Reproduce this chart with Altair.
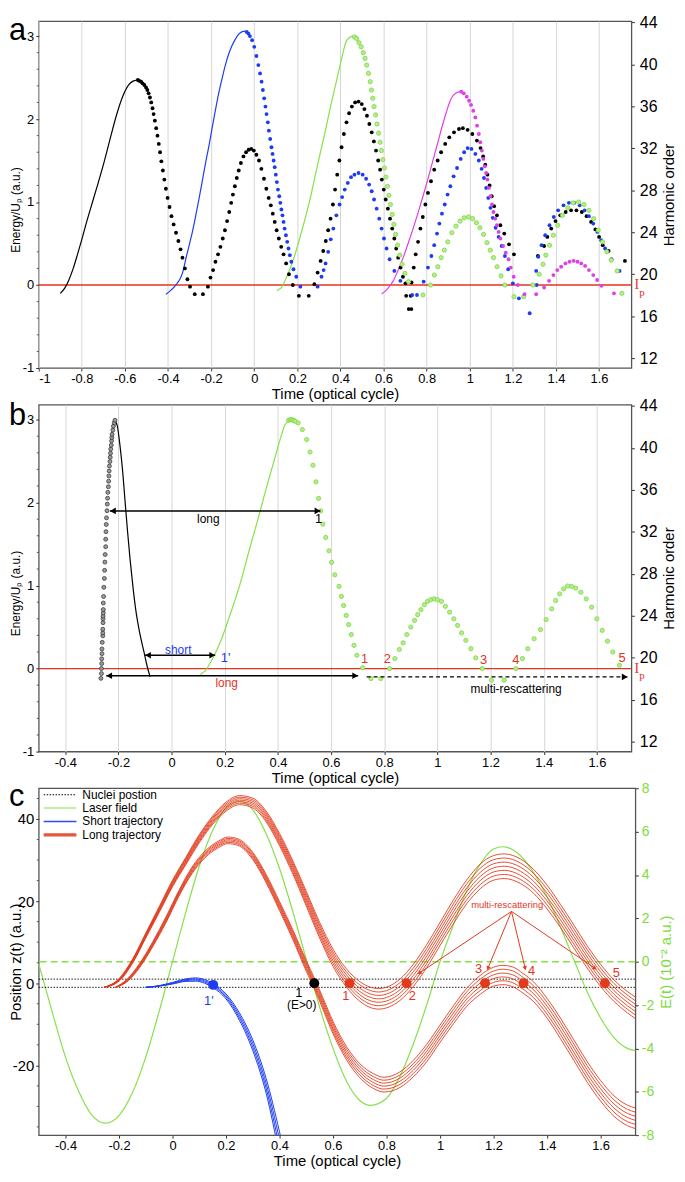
import math
import altair as alt
import pandas as pd

FONT = "Liberation Sans"
SERIF = "Liberation Serif"
RED_IP = "#e5331f"
BLUE = "#1d3cf2"
MAGENTA = "#df3fe6"
GREEN_LINE = "#86e04a"
GREEN_FILL = "#b4ef88"
GREEN_EDGE = "#86d84f"
GREEN_AX = "#7cdc3a"
RED_TRAJ = "#e23a1c"
GRID = "#d6d6d6"
FRAME = "#555555"

# ---------------- panel a : return energies (time, Energy/Up) ----------------
a_x_ticks = [-1, -0.8, -0.6, -0.4, -0.2, 0, 0.2, 0.4, 0.6, 0.8, 1, 1.2, 1.4, 1.6]
e_y_ticks = [-1, 0, 1, 2, 3]
e_y_minor = [-0.8, -0.6, -0.4, -0.2, 0.2, 0.4, 0.6, 0.8, 1.2, 1.4, 1.6, 1.8, 2.2, 2.4, 2.6, 2.8]
harmonic_ticks = [12, 16, 20, 24, 28, 32, 36, 40, 44]

a_black_line = [(-0.9, -0.1), (-0.88, -0.04), (-0.86, 0.06), (-0.84, 0.2), (-0.82, 0.37), (-0.8, 0.55),
                (-0.78, 0.74), (-0.762, 0.9), (-0.731, 1.17), (-0.7, 1.45), (-0.67, 1.75), (-0.64, 2.04),
                (-0.609, 2.28), (-0.58, 2.42), (-0.56, 2.46), (-0.545, 2.47)]
a_blue_line = [(-0.41, -0.11), (-0.39, -0.07), (-0.37, -0.02), (-0.355, 0.03), (-0.341, 0.09), (-0.33, 0.17),
               (-0.318, 0.31), (-0.3, 0.5), (-0.287, 0.64), (-0.272, 0.83), (-0.257, 1.03), (-0.242, 1.24),
               (-0.226, 1.47), (-0.21, 1.68), (-0.195, 1.9), (-0.18, 2.11), (-0.165, 2.31), (-0.15, 2.48),
               (-0.134, 2.65), (-0.119, 2.78), (-0.104, 2.88), (-0.088, 2.96), (-0.073, 3.02), (-0.058, 3.05),
               (-0.042, 3.06)]
a_green_line = [(0.106, -0.07), (0.116, -0.05), (0.126, -0.03), (0.14, 0.04), (0.156, 0.13), (0.171, 0.23),
                (0.187, 0.35), (0.202, 0.48), (0.217, 0.62), (0.233, 0.77), (0.248, 0.92), (0.264, 1.09),
                (0.279, 1.27), (0.294, 1.45), (0.309, 1.62), (0.325, 1.8), (0.34, 1.98), (0.355, 2.16),
                (0.37, 2.33), (0.386, 2.51), (0.401, 2.68), (0.413, 2.81), (0.424, 2.92), (0.44, 2.98),
                (0.456, 3.0)]
a_magenta_line = [(0.591, -0.11), (0.605, -0.08), (0.62, -0.04), (0.645, 0.05), (0.668, 0.18), (0.691, 0.33),
                  (0.714, 0.5), (0.737, 0.68), (0.76, 0.87), (0.783, 1.07), (0.806, 1.28), (0.829, 1.5),
                  (0.852, 1.72), (0.875, 1.94), (0.89, 2.07), (0.902, 2.17), (0.925, 2.29), (0.952, 2.33)]

a_black_dots = [
    (-0.54, 2.47), (-0.533, 2.46), (-0.525, 2.45), (-0.518, 2.43), (-0.51, 2.41), (-0.502, 2.38), (-0.496, 2.35),
    (-0.49, 2.31), (-0.484, 2.26), (-0.478, 2.2), (-0.472, 2.13), (-0.467, 2.06), (-0.461, 1.98), (-0.455, 1.89),
    (-0.449, 1.8), (-0.443, 1.7), (-0.437, 1.6), (-0.431, 1.49), (-0.424, 1.38), (-0.417, 1.27), (-0.41, 1.16),
    (-0.402, 1.05), (-0.393, 0.94), (-0.384, 0.83), (-0.374, 0.73), (-0.363, 0.63), (-0.352, 0.53), (-0.342, 0.43),
    (-0.333, 0.33), (-0.322, 0.2), (-0.31, 0.07), (-0.298, -0.02), (-0.276, -0.11), (-0.238, -0.11),
    (-0.215, -0.02), (-0.203, 0.09), (-0.191, 0.18), (-0.18, 0.28), (-0.168, 0.37), (-0.157, 0.46), (-0.146, 0.56),
    (-0.136, 0.66), (-0.126, 0.77), (-0.116, 0.88), (-0.107, 0.99), (-0.099, 1.09), (-0.09, 1.19), (-0.081, 1.29),
    (-0.072, 1.38), (-0.062, 1.47), (-0.05, 1.55), (-0.038, 1.6), (-0.026, 1.63), (-0.014, 1.64), (-0.002, 1.62),
    (0.01, 1.57), (0.022, 1.5), (0.033, 1.4), (0.045, 1.28), (0.056, 1.16), (0.067, 1.05), (0.077, 0.96),
    (0.086, 0.86), (0.095, 0.76), (0.104, 0.66), (0.114, 0.56), (0.125, 0.46), (0.136, 0.37), (0.148, 0.26),
    (0.161, 0.13), (0.179, 0.0), (0.207, -0.13), (0.253, -0.13),
    (0.279, 0.01), (0.294, 0.15), (0.308, 0.29), (0.32, 0.41), (0.332, 0.53), (0.343, 0.66), (0.354, 0.8),
    (0.365, 0.97), (0.375, 1.15), (0.385, 1.33), (0.395, 1.5), (0.405, 1.66), (0.416, 1.82), (0.428, 1.96),
    (0.44, 2.07), (0.453, 2.15), (0.468, 2.2), (0.484, 2.21), (0.499, 2.18), (0.511, 2.12), (0.523, 2.04),
    (0.534, 1.94), (0.545, 1.84), (0.555, 1.73), (0.565, 1.62), (0.575, 1.5), (0.584, 1.39), (0.592, 1.27),
    (0.601, 1.15), (0.61, 1.03), (0.62, 0.92), (0.63, 0.8), (0.64, 0.68), (0.65, 0.56), (0.659, 0.44),
    (0.668, 0.33), (0.679, 0.21), (0.69, 0.1), (0.702, 0.02), (0.705, -0.13), (0.726, -0.13), (0.717, -0.29),
    (0.729, -0.29),
    (0.73, 0.03), (0.74, 0.21), (0.749, 0.37), (0.76, 0.52), (0.771, 0.68), (0.782, 0.82), (0.794, 0.97),
    (0.806, 1.11), (0.82, 1.25), (0.835, 1.39), (0.851, 1.5), (0.867, 1.6), (0.886, 1.7), (0.905, 1.78),
    (0.927, 1.84), (0.95, 1.88), (0.968, 1.89), (0.99, 1.87), (1.012, 1.82), (1.033, 1.74), (1.05, 1.65),
    (1.062, 1.55), (1.072, 1.45), (1.082, 1.33), (1.092, 1.2), (1.102, 1.07), (1.113, 0.95), (1.126, 0.84),
    (1.142, 0.72), (1.16, 0.62), (1.182, 0.49), (1.205, 0.37),
    (1.316, 0.35), (1.345, 0.47), (1.36, 0.58), (1.378, 0.68), (1.398, 0.77), (1.42, 0.84), (1.445, 0.88),
    (1.47, 0.9), (1.495, 0.9), (1.52, 0.88), (1.542, 0.83), (1.563, 0.76), (1.583, 0.67), (1.6, 0.58),
    (1.617, 0.48), (1.644, 0.41), (1.72, 0.29)]

a_blue_dots = [
    (-0.035, 3.05), (-0.027, 3.03), (-0.02, 3.0), (-0.01, 2.95), (0.0, 2.87), (0.01, 2.76), (0.019, 2.65),
    (0.027, 2.55), (0.034, 2.45), (0.04, 2.35), (0.046, 2.25), (0.052, 2.15), (0.057, 2.06), (0.063, 1.96),
    (0.068, 1.86), (0.074, 1.76), (0.08, 1.66), (0.085, 1.58), (0.09, 1.5), (0.095, 1.42), (0.1, 1.33),
    (0.105, 1.24), (0.11, 1.15), (0.116, 1.07), (0.121, 0.99), (0.126, 0.91), (0.131, 0.84), (0.136, 0.76),
    (0.141, 0.68), (0.147, 0.6), (0.153, 0.52), (0.159, 0.44), (0.165, 0.36), (0.172, 0.28), (0.182, 0.19),
    (0.195, 0.1), (0.214, -0.02), (0.294, -0.02),
    (0.312, 0.1), (0.322, 0.18), (0.331, 0.26), (0.343, 0.4), (0.355, 0.55), (0.367, 0.68), (0.381, 0.84),
    (0.396, 0.97), (0.408, 1.06), (0.42, 1.15), (0.434, 1.23), (0.449, 1.3), (0.465, 1.33), (0.484, 1.35),
    (0.503, 1.33), (0.519, 1.28), (0.533, 1.21), (0.545, 1.13), (0.556, 1.03), (0.568, 0.92), (0.58, 0.8),
    (0.591, 0.68), (0.602, 0.56), (0.614, 0.44), (0.628, 0.31), (0.65, 0.17), (0.678, 0.05), (0.733, -0.12),
    (0.755, -0.12),
    (0.786, 0.04), (0.806, 0.21), (0.822, 0.35), (0.835, 0.48), (0.848, 0.62), (0.859, 0.74), (0.871, 0.86),
    (0.884, 0.97), (0.897, 1.09), (0.91, 1.19), (0.925, 1.31), (0.941, 1.41), (0.958, 1.52), (0.974, 1.6),
    (0.99, 1.65), (1.008, 1.64), (1.026, 1.58), (1.042, 1.5), (1.055, 1.4), (1.066, 1.29), (1.076, 1.17),
    (1.086, 1.05), (1.096, 0.93), (1.107, 0.81), (1.12, 0.69), (1.134, 0.58), (1.148, 0.47), (1.163, 0.35),
    (1.178, 0.19), (1.2, 0.02), (1.228, -0.16), (1.278, -0.34),
    (1.31, 0.0), (1.308, 0.17), (1.318, 0.34), (1.333, 0.48), (1.35, 0.6), (1.37, 0.72), (1.39, 0.82),
    (1.41, 0.9), (1.435, 0.96), (1.46, 0.99), (1.485, 0.99), (1.51, 0.96), (1.533, 0.9), (1.553, 0.83),
    (1.573, 0.74), (1.592, 0.64), (1.61, 0.54), (1.628, 0.44), (1.658, 0.31), (1.695, 0.17)]

a_green_dots = [
    (0.465, 2.99), (0.475, 2.97), (0.486, 2.92), (0.496, 2.87), (0.506, 2.8), (0.514, 2.73), (0.522, 2.65),
    (0.53, 2.55), (0.538, 2.45), (0.544, 2.35), (0.55, 2.25), (0.556, 2.15), (0.563, 2.05), (0.57, 1.94),
    (0.577, 1.83), (0.584, 1.72), (0.59, 1.62), (0.597, 1.51), (0.604, 1.41), (0.611, 1.3), (0.618, 1.19),
    (0.625, 1.08), (0.632, 0.97), (0.64, 0.85), (0.648, 0.73), (0.656, 0.61), (0.665, 0.48), (0.675, 0.36),
    (0.686, 0.25), (0.699, 0.14), (0.716, 0.04), (0.783, -0.12),
    (0.818, 0.0), (0.836, 0.12), (0.852, 0.22), (0.867, 0.33), (0.882, 0.42), (0.898, 0.52), (0.917, 0.63),
    (0.936, 0.71), (0.955, 0.77), (0.974, 0.81), (0.994, 0.82), (1.013, 0.8), (1.031, 0.75), (1.047, 0.69),
    (1.064, 0.61), (1.08, 0.51), (1.095, 0.42), (1.11, 0.33), (1.127, 0.22), (1.145, 0.11), (1.163, 0.0),
    (1.205, -0.14), (1.25, -0.14),
    (1.293, 0.0), (1.322, 0.13), (1.34, 0.25), (1.353, 0.36), (1.37, 0.48), (1.388, 0.6), (1.408, 0.72),
    (1.43, 0.84), (1.455, 0.93), (1.48, 0.99), (1.505, 1.0), (1.53, 0.97), (1.553, 0.9), (1.575, 0.8),
    (1.596, 0.66), (1.616, 0.52), (1.636, 0.4), (1.656, 0.3), (1.684, 0.17), (1.706, -0.1)]

a_magenta_dots = [
    (0.96, 2.33), (0.972, 2.31), (0.986, 2.27), (0.997, 2.22), (1.006, 2.17), (1.016, 2.1), (1.026, 2.02),
    (1.034, 1.92), (1.042, 1.82), (1.049, 1.72), (1.056, 1.62), (1.063, 1.52), (1.07, 1.43), (1.076, 1.35),
    (1.082, 1.27), (1.089, 1.17), (1.096, 1.07), (1.103, 0.97), (1.11, 0.88), (1.118, 0.8), (1.126, 0.72),
    (1.134, 0.64), (1.142, 0.56), (1.155, 0.47), (1.167, 0.39), (1.18, 0.31), (1.19, 0.21), (1.204, 0.1),
    (1.223, 0.0), (1.254, -0.11),
    (1.308, -0.11), (1.345, -0.03), (1.368, 0.05), (1.388, 0.12), (1.406, 0.18), (1.424, 0.22), (1.444, 0.26),
    (1.463, 0.28), (1.482, 0.29), (1.5, 0.28), (1.517, 0.26), (1.535, 0.23), (1.553, 0.18), (1.573, 0.12),
    (1.591, 0.06), (1.611, -0.01), (1.669, -0.1)]

# ---------------- panel b ----------------
b_x_ticks = [-0.4, -0.2, 0, 0.2, 0.4, 0.6, 0.8, 1, 1.2, 1.4, 1.6]
b_black_dots = [
    (-0.266, -0.118), (-0.264, -0.06), (-0.264, 0.0), (-0.263, 0.06), (-0.263, 0.118), (-0.262, 0.18),
    (-0.262, 0.237), (-0.261, 0.316), (-0.259, 0.395), (-0.259, 0.43), (-0.259, 0.474), (-0.258, 0.553),
    (-0.258, 0.6), (-0.258, 0.632), (-0.257, 0.67), (-0.257, 0.711), (-0.257, 0.79), (-0.256, 0.869),
    (-0.255, 0.979), (-0.253, 1.086), (-0.252, 1.184), (-0.251, 1.283), (-0.25, 1.374), (-0.248, 1.469),
    (-0.248, 1.559), (-0.247, 1.65), (-0.246, 1.737), (-0.245, 1.816), (-0.243, 1.903), (-0.242, 1.982),
    (-0.241, 2.053), (-0.24, 2.124), (-0.238, 2.191), (-0.237, 2.258), (-0.236, 2.321), (-0.235, 2.381),
    (-0.234, 2.44), (-0.232, 2.495), (-0.231, 2.546), (-0.23, 2.594), (-0.229, 2.645), (-0.227, 2.692),
    (-0.226, 2.744), (-0.225, 2.783), (-0.224, 2.823), (-0.221, 2.874), (-0.219, 2.921), (-0.216, 2.961),
    (-0.213, 2.992)]
b_black_line = [(-0.213, 2.992), (-0.204, 2.92), (-0.194, 2.68), (-0.184, 2.37), (-0.176, 2.05), (-0.166, 1.66),
                (-0.157, 1.34), (-0.147, 1.03), (-0.135, 0.71), (-0.12, 0.43), (-0.104, 0.2), (-0.093, 0.04),
                (-0.081, -0.1)]
b_green_line = [(0.107, -0.087), (0.116, -0.05), (0.126, -0.03), (0.14, 0.04), (0.156, 0.13), (0.171, 0.23),
                (0.187, 0.35), (0.202, 0.48), (0.217, 0.62), (0.233, 0.77), (0.248, 0.92), (0.264, 1.09),
                (0.279, 1.27), (0.294, 1.45), (0.309, 1.62), (0.325, 1.8), (0.34, 1.98), (0.355, 2.16),
                (0.37, 2.33), (0.386, 2.51), (0.401, 2.68), (0.413, 2.81), (0.424, 2.92), (0.44, 2.98),
                (0.451, 3.0)]
b_green_dots = [
    (0.44, 2.99), (0.446, 3.0), (0.451, 3.0), (0.456, 2.995), (0.46, 2.99), (0.465, 2.98), (0.476, 2.96),
    (0.492, 2.88), (0.508, 2.76), (0.521, 2.61), (0.532, 2.45), (0.543, 2.25), (0.553, 2.05), (0.561, 1.9),
    (0.569, 1.74), (0.58, 1.58), (0.592, 1.42), (0.602, 1.28), (0.614, 1.13), (0.63, 0.99), (0.639, 0.87),
    (0.647, 0.76), (0.657, 0.64), (0.666, 0.53), (0.676, 0.41), (0.686, 0.28), (0.697, 0.16), (0.719, 0.01),
    (0.75, -0.12), (0.787, -0.12),
    (0.82, 0.0), (0.84, 0.12), (0.857, 0.23), (0.871, 0.31), (0.885, 0.41), (0.9, 0.5), (0.914, 0.58),
    (0.926, 0.65), (0.938, 0.71), (0.951, 0.77), (0.963, 0.81), (0.975, 0.83), (0.988, 0.84), (1.0, 0.83),
    (1.015, 0.81), (1.03, 0.75), (1.046, 0.68), (1.062, 0.6), (1.076, 0.52), (1.091, 0.43), (1.107, 0.34),
    (1.126, 0.24), (1.144, 0.13), (1.169, 0.0), (1.203, -0.14), (1.251, -0.14),
    (1.295, 0.0), (1.32, 0.12), (1.34, 0.24), (1.364, 0.36), (1.388, 0.47), (1.409, 0.59), (1.43, 0.72),
    (1.445, 0.82), (1.46, 0.9), (1.475, 0.96), (1.49, 0.995), (1.505, 0.99), (1.52, 0.97), (1.54, 0.92),
    (1.56, 0.84), (1.58, 0.74), (1.6, 0.6), (1.62, 0.46), (1.64, 0.33), (1.66, 0.2), (1.685, 0.04)]

b_arrow_t1 = [-0.232, -0.1, -0.246, 0.734]
b_arrow_t2 = [0.56, 0.164, 0.702, 1.716]
b_arrow_e = [1.9, 0.16, -0.087, -0.1]
b_arrow_dashed = [False, False, False, True]
b_arrow_left_head = [True, True, True, False]
b_labels = ["long", "1", "short", "1'", "long", "multi-rescattering", "1", "2", "3", "4", "5"]
b_label_t = [0.138, 0.553, 0.025, 0.203, 0.207, 1.296, 0.726, 0.812, 1.174, 1.295, 1.695]
b_label_e = [1.8, 1.8, 0.22, 0.13, -0.18, -0.245, 0.11, 0.11, 0.1, 0.1, 0.13]
b_label_color = ["#000000", "#000000", BLUE, BLUE, RED_IP, "#000000", RED_IP, RED_IP, RED_IP, RED_IP, RED_IP]
b_label_size = [12, 13, 12, 13, 12, 12, 13, 13, 13, 13, 13]

# ---------------- panel c : trajectories ----------------
c_x_ticks = [-0.4, -0.2, 0, 0.2, 0.4, 0.6, 0.8, 1, 1.2, 1.4, 1.6]
c_z_ticks = [-20, 0, 20, 40]
c_z_minor = [-35, -30, -25, -15, -10, -5, 5, 10, 15, 25, 30, 35, 45]
c_E_ticks = [-8, -6, -4, -2, 0, 2, 4, 6, 8]

laser_t = [-0.5, -0.45, -0.4, -0.35, -0.3, -0.25, -0.2, -0.15, -0.1, -0.05, 0.0, 0.05, 0.1, 0.15, 0.2, 0.25,
           0.3, 0.35, 0.4, 0.45, 0.5, 0.55, 0.6, 0.65, 0.7, 0.74, 0.8, 0.85, 0.9, 0.95, 1.0, 1.05, 1.1, 1.15,
           1.2, 1.235, 1.3, 1.35, 1.4, 1.45, 1.5, 1.55, 1.6, 1.65, 1.7, 1.73]
laser_E = [-0.1, -2.3, -4.4, -6.0, -7.1, -7.45, -7.1, -6.05, -4.4, -2.3, 0.0, 2.3, 4.4, 6.05, 7.1, 7.4,
           7.0, 5.9, 4.3, 2.3, 0.1, -2.1, -4.0, -5.5, -6.4, -6.63, -6.3, -5.3, -3.8, -2.0, 0.0, 1.7, 3.3, 4.5,
           5.2, 5.3, 4.9, 4.1, 3.0, 1.6, 0.1, -1.4, -2.6, -3.5, -4.0, -4.1]

nuclei_t = [-0.5, 1.73]
nuclei_z = [1.0, -1.0]

short_t = [-0.1, -0.05, 0.0, 0.05, 0.085, 0.12, 0.15, 0.2, 0.25, 0.3, 0.35, 0.4, 0.43]
short_center = [-1.0, -0.65, 0.0, 0.75, 0.9, 0.45, -0.5, -3.2, -8.1, -15.1, -25.0, -39.0, -48.0]
short_half = [0.0, 0.05, 0.2, 0.3, 0.4, 0.45, 0.5, 0.6, 0.9, 1.3, 1.8, 2.8, 3.0]

long1_t = [-0.256, -0.2, -0.15, -0.1, -0.05, 0.0, 0.05, 0.1, 0.15, 0.2, 0.25, 0.3, 0.35, 0.4, 0.45, 0.5,
           0.55, 0.6, 0.65, 0.7, 0.77, 0.85, 0.9, 0.95, 1.0, 1.05, 1.1, 1.15, 1.2, 1.24, 1.3, 1.35, 1.4,
           1.45, 1.5, 1.55, 1.6, 1.65, 1.7, 1.73]
long1_center = [-1.0, 0.8, 5.3, 11.6, 17.9, 24.3, 29.8, 35.2, 39.7, 43.0, 44.6, 43.9, 40.6, 35.0, 28.2, 20.6,
                12.9, 6.2, 1.3, -2.0, -3.8, -1.6, 1.9, 6.6, 12.0, 17.4, 22.3, 26.0, 28.1, 28.5, 27.3, 24.8,
                21.0, 16.4, 11.4, 6.4, 1.9, -1.8, -4.6, -6.0]
long1_half = [0.0, 0.3, 0.5, 0.6, 0.7, 0.8, 0.9, 1.0, 1.0, 1.1, 1.1, 1.2, 1.3, 1.5, 1.6, 1.8, 1.9, 2.1, 2.2,
              2.4, 2.5, 2.6, 2.7, 2.8, 2.8, 2.9, 2.9, 3.0, 3.0, 3.0, 3.0, 2.9, 2.9, 2.8, 2.8, 2.7, 2.7, 2.6,
              2.6, 2.6]

long2_t = [-0.213, -0.171, -0.122, -0.073, -0.024, 0.024, 0.073, 0.122, 0.171, 0.207, 0.244, 0.3, 0.35, 0.4,
           0.45, 0.5, 0.53, 0.56, 0.6, 0.65, 0.7, 0.75, 0.79, 0.85, 0.9, 0.95, 1.0, 1.05, 1.1, 1.15, 1.2,
           1.235, 1.27, 1.31, 1.35, 1.4, 1.45, 1.5, 1.55, 1.6, 1.65, 1.7, 1.73]
long2_center = [-1.0, 0.6, 4.4, 9.6, 15.5, 21.9, 27.5, 31.4, 33.8, 34.8, 34.4, 31.0, 25.5, 18.8, 11.8, 4.2,
                0.0, -4.6, -10.8, -17.0, -21.3, -23.8, -24.7, -23.5, -20.8, -17.0, -12.3, -7.7, -3.4, -0.4,
                1.6, 2.0, 1.6, 0.0, -2.1, -6.1, -11.0, -16.3, -21.6, -26.2, -29.9, -32.2, -32.9]
long2_half = [0.0, 0.3, 0.5, 0.6, 0.7, 0.7, 0.8, 0.8, 0.8, 0.8, 0.8, 0.9, 1.0, 1.1, 1.2, 1.3, 1.3, 1.4, 1.5,
              1.6, 1.7, 1.8, 1.8, 1.9, 2.0, 2.1, 2.1, 2.2, 2.2, 2.3, 2.3, 2.35, 2.4, 2.4, 2.4, 2.4, 2.5, 2.5,
              2.5, 2.5, 2.5, 2.5, 2.5]

c_red_dots_t = [0.662, 0.875, 1.168, 1.312, 1.616]
c_red_dots_z = [0, 0, 0, 0, 0]
c_black_dot = (0.53, 0.0)
c_blue_dot = (0.152, -0.4)
c_labels = ["1'", "1", "(E>0)", "1", "2", "3", "4", "5", "multi-rescattering"]
c_label_t = [0.136, 0.472, 0.483, 0.648, 0.896, 1.144, 1.342, 1.659, 1.251]
c_label_z = [-4.3, -2.3, -5.2, -3.1, -3.1, 3.5, 2.9, 2.5, 19.0]
c_label_color = [BLUE, "#000000", "#000000", RED_IP, RED_IP, RED_IP, RED_IP, RED_IP, RED_IP]
c_label_size = [13, 13, 12, 13, 13, 13, 13, 13, 9.5]
c_arrow_from = (1.267, 17.5)
c_arrow_to_t = [0.923, 1.179, 1.318, 1.579]
c_arrow_to_z = [2.5, 3.65, 3.65, 3.65]
legend_labels = ["Nuclei postion", "Laser field", "Short trajectory", "Long trajectory"]
legend_colors = ["#000000", GREEN_LINE, "#2a4cff", "#e8553a"]

# ---------------- layout ----------------
WA, HA = 598, 350
WB, HB = 598, 350
WC, HC = 602, 350
E_DOM = [-1, 3.18]
H_DOM = [11.07, 44.12]

MINUS = "datum.value < 0 ? '-' + format(-datum.value, '~g') : format(datum.value, '~g')"


def axis(values, title, **kw):
    base = dict(values=values, title=title, labelExpr=MINUS, domain=False, grid=False, ticks=True,
                tickSize=3, tickColor="#333333", labelColor="#000000", titleColor="#000000",
                labelFont=FONT, titleFont=FONT, labelFontSize=13, titleFontSize=15,
                titleFontWeight="normal", labelPadding=2, titlePadding=1, labelOverlap=False)
    base.update(kw)
    return alt.Axis(**base)


def pdf(pairs, cols=("t", "e")):
    return pd.DataFrame(list(pairs), columns=list(cols))


def letter(ch, y):
    return alt.Chart(pd.DataFrame({"label": [ch]})).mark_text(
        font=FONT, fontSize=31, align="left", baseline="alphabetic", color="#000000"
    ).encode(x=alt.value(-30), y=alt.value(y), text="label:N")


def energy_common(X, Y, W):
    ip = alt.Chart(pd.DataFrame({"e": [0]})).mark_rule(color=RED_IP, strokeWidth=1.3).encode(y=Y)
    minor = alt.Chart(pd.DataFrame({"e": e_y_minor})).mark_rule(color="#333333", strokeWidth=0.8).encode(
        y=Y, x=alt.value(-2), x2=alt.value(0))
    i_txt = alt.Chart(pd.DataFrame({"e": [0], "label": ["I"]})).mark_text(
        font=SERIF, fontSize=14, color=RED_IP, align="left", baseline="middle", dx=3).encode(
        x=alt.value(W), y=Y, text="label:N")
    p_txt = alt.Chart(pd.DataFrame({"e": [0], "label": ["p"]})).mark_text(
        font=SERIF, fontSize=11, color=RED_IP, align="left", baseline="middle", dx=8, dy=8).encode(
        x=alt.value(W), y=Y, text="label:N")
    return ip, minor, i_txt, p_txt


def harmonic_layer(H):
    return alt.Chart(pd.DataFrame({"h": harmonic_ticks})).mark_point(opacity=0).encode(
        x=alt.value(0),
        y=alt.Y("h:Q", scale=alt.Scale(domain=H_DOM, nice=False, zero=False),
                axis=axis(harmonic_ticks, "Harmonic order", orient="right", labelFontSize=16,
                          labelPadding=5, titleAngle=270, titleX=45, titleY=H / 2)))


def line(pairs, X, Y, color, width=1.2):
    return alt.Chart(pdf(pairs)).mark_line(color=color, strokeWidth=width, interpolate="monotone").encode(x=X, y=Y)


def dots(pairs, X, Y, color, size=15):
    return alt.Chart(pdf(pairs)).mark_circle(color=color, size=size, opacity=1).encode(x=X, y=Y)


def green_dots(pairs, X, Y):
    return alt.Chart(pdf(pairs)).mark_point(shape="circle", size=18, fill=GREEN_FILL, stroke=GREEN_EDGE,
                                            strokeWidth=0.9, fillOpacity=1, opacity=1).encode(x=X, y=Y)


# ---- panel a
XA = alt.X("t:Q", scale=alt.Scale(domain=[-1, 1.75], nice=False, zero=False),
           axis=axis(a_x_ticks, "Time (optical cycle)", grid=True, gridColor=GRID, gridWidth=1))
YA = alt.Y("e:Q", scale=alt.Scale(domain=E_DOM, nice=False, zero=False),
           axis=axis(e_y_ticks, "Energy/Uₚ (a.u.)", titleFontSize=12, titleX=-16, titleY=HA / 2 + 15))
ipA, minorA, iA, pA = energy_common(XA, YA, WA)
inner_a = alt.layer(
    ipA, minorA,
    line(a_black_line, XA, YA, "#000000"),
    line(a_blue_line, XA, YA, BLUE),
    line(a_green_line, XA, YA, GREEN_LINE),
    line(a_magenta_line, XA, YA, MAGENTA),
    dots(a_black_dots, XA, YA, "#000000"),
    dots(a_blue_dots, XA, YA, BLUE),
    green_dots(a_green_dots, XA, YA),
    dots(a_magenta_dots, XA, YA, MAGENTA),
    iA, pA, letter("a", 19),
)
panel_a = alt.layer(inner_a, harmonic_layer(HA)).resolve_scale(y="independent").properties(width=WA, height=HA)

# ---- panel b
XB = alt.X("t:Q", scale=alt.Scale(domain=[-0.5, 1.73], nice=False, zero=False),
           axis=axis(b_x_ticks, "Time (optical cycle)", grid=True, gridColor=GRID, gridWidth=1))
YB = alt.Y("e:Q", scale=alt.Scale(domain=E_DOM, nice=False, zero=False),
           axis=axis(e_y_ticks, "Energy/Uₚ (a.u.)", titleFontSize=12, titleX=-16, titleY=HB / 2 + 15))
ipB, minorB, iB, pB = energy_common(XB, YB, WB)

arrows_df = pd.DataFrame({"t": b_arrow_t1, "t2": b_arrow_t2, "e": b_arrow_e, "dashed": b_arrow_dashed})
solid_arrows = alt.Chart(arrows_df[~arrows_df.dashed]).mark_rule(color="#000000", strokeWidth=1.5).encode(
    x=XB, x2="t2:Q", y=YB)
dashed_arrows = alt.Chart(arrows_df[arrows_df.dashed]).mark_rule(
    color="#000000", strokeWidth=1.3, strokeDash=[4, 3]).encode(x=XB, x2="t2:Q", y=YB)
left_heads = alt.Chart(pd.DataFrame({
    "t": [t for t, h in zip(b_arrow_t1, b_arrow_left_head) if h],
    "e": [e for e, h in zip(b_arrow_e, b_arrow_left_head) if h]})).mark_point(
    shape="triangle-left", filled=True, size=45, color="#000000", opacity=1, xOffset=3).encode(x=XB, y=YB)
right_heads = alt.Chart(pd.DataFrame({"t": b_arrow_t2, "e": b_arrow_e})).mark_point(
    shape="triangle-right", filled=True, size=45, color="#000000", opacity=1, xOffset=-3).encode(x=XB, y=YB)
b_text_layers = []
for lab, t, e, col, fs in zip(b_labels, b_label_t, b_label_e, b_label_color, b_label_size):
    b_text_layers.append(alt.Chart(pd.DataFrame({"t": [t], "e": [e], "label": [lab]})).mark_text(
        font=FONT, fontSize=fs, color=col, align="center", baseline="middle").encode(x=XB, y=YB, text="label:N"))

b_black_pts = alt.Chart(pdf(b_black_dots)).mark_point(shape="circle", size=16, fill="#9a9a9a", stroke="#2a2a2a",
                                                      strokeWidth=0.7, fillOpacity=1, opacity=1).encode(x=XB, y=YB)
inner_b = alt.layer(
    ipB, minorB,
    line(b_black_line, XB, YB, "#000000"),
    line(b_green_line, XB, YB, GREEN_LINE),
    b_black_pts,
    green_dots(b_green_dots, XB, YB),
    solid_arrows, dashed_arrows, left_heads, right_heads,
    *b_text_layers,
    iB, pB, letter("b", 21),
)
panel_b = alt.layer(inner_b, harmonic_layer(HB)).resolve_scale(y="independent").properties(width=WB, height=HB)

# ---- panel c
XC = alt.X("t:Q", scale=alt.Scale(domain=[-0.5, 1.73], nice=False, zero=False),
           axis=axis(c_x_ticks, "Time (optical cycle)"))
YC = alt.Y("z:Q", scale=alt.Scale(domain=[-37, 47.5], nice=False, zero=False),
           axis=axis(c_z_ticks, "Position z(t) (a.u.)", labelFontSize=15, titleX=-15, titleY=HC / 2))
YE = alt.Y("E:Q", scale=alt.Scale(domain=[-8, 8], nice=False, zero=False),
           axis=axis(c_E_ticks, "E(t) (10⁻² a.u.)", orient="right", labelFontSize=14, labelColor=GREEN_AX,
                     titleColor=GREEN_AX, labelPadding=3, titleAngle=270, titleX=38, titleY=HC / 2))


def bundle_rows(ts, center, half, n, name):
    rows = []
    for k in range(n):
        frac = 2.0 * k / (n - 1) - 1.0
        for t, c, h in zip(ts, center, half):
            rows.append({"t": t, "z": c + h * frac, "line": f"{name}{k}"})
    return rows


short_df = pd.DataFrame(bundle_rows(short_t, short_center, short_half, 4, "s"))
long_df = pd.DataFrame(bundle_rows(long1_t, long1_center, long1_half, 7, "a")
                       + bundle_rows(long2_t, long2_center, long2_half, 6, "b"))
nuclei_df = pd.DataFrame({"t": nuclei_t * 2, "z": [nuclei_z[0]] * 2 + [nuclei_z[1]] * 2,
                          "line": ["n1", "n1", "n2", "n2"]})

laser = alt.Chart(pd.DataFrame({"t": laser_t, "E": laser_E})).mark_line(
    color=GREEN_LINE, strokeWidth=1.2, interpolate="monotone").encode(x=XC, y=YE)
zero_E = alt.Chart(pd.DataFrame({"E": [0]})).mark_rule(color=GREEN_LINE, strokeWidth=1.6,
                                                       strokeDash=[7, 4]).encode(y=YE)
e_layer = alt.layer(zero_E, laser)

nuclei = alt.Chart(nuclei_df).mark_line(color="#000000", strokeWidth=0.9, strokeDash=[1.5, 1.5]).encode(
    x=XC, y=YC, detail="line:N")
short_lines = alt.Chart(short_df).mark_line(color=BLUE, strokeWidth=1.0, interpolate="monotone", clip=True).encode(
    x=XC, y=YC, detail="line:N")
long_lines = alt.Chart(long_df).mark_line(color=RED_TRAJ, strokeWidth=0.9, interpolate="monotone", clip=True).encode(
    x=XC, y=YC, detail="line:N")
zminor = alt.Chart(pd.DataFrame({"z": c_z_minor})).mark_rule(color="#333333", strokeWidth=0.8).encode(
    y=YC, x=alt.value(-2), x2=alt.value(0))
red_pts = alt.Chart(pd.DataFrame({"t": c_red_dots_t, "z": c_red_dots_z})).mark_circle(
    color=RED_TRAJ, size=100, opacity=1).encode(x=XC, y=YC)
black_pt = alt.Chart(pd.DataFrame({"t": [c_black_dot[0]], "z": [c_black_dot[1]]})).mark_circle(
    color="#000000", size=100, opacity=1).encode(x=XC, y=YC)
blue_pt = alt.Chart(pd.DataFrame({"t": [c_blue_dot[0]], "z": [c_blue_dot[1]]})).mark_circle(
    color=BLUE, size=100, opacity=1).encode(x=XC, y=YC)

c_text_layers = []
for lab, t, z, col, fs in zip(c_labels, c_label_t, c_label_z, c_label_color, c_label_size):
    c_text_layers.append(alt.Chart(pd.DataFrame({"t": [t], "z": [z], "label": [lab]})).mark_text(
        font=FONT, fontSize=fs, color=col, align="center", baseline="middle").encode(x=XC, y=YC, text="label:N"))

pxx = WC / (1.73 + 0.5)
pxy = HC / (47.5 + 37)
arrow_df = pd.DataFrame({"t": [c_arrow_from[0]] * len(c_arrow_to_t), "z": [c_arrow_from[1]] * len(c_arrow_to_t),
                         "t2": c_arrow_to_t, "z2": c_arrow_to_z})
c_arrows = alt.Chart(arrow_df).mark_rule(color=RED_TRAJ, strokeWidth=1.0).encode(x=XC, y=YC, x2="t2:Q", y2="z2:Q")
angles = [math.degrees(math.atan2((t2 - c_arrow_from[0]) * pxx, (z2 - c_arrow_from[1]) * pxy)) % 360
          for t2, z2 in zip(c_arrow_to_t, c_arrow_to_z)]
c_heads = alt.Chart(pd.DataFrame({"t": c_arrow_to_t, "z": c_arrow_to_z, "ang": angles})).mark_point(
    shape="triangle-up", filled=True, size=22, color=RED_TRAJ, opacity=1).encode(
    x=XC, y=YC, angle=alt.Angle("ang:Q", scale=None))

legend_layers = []
for i, (lab, col) in enumerate(zip(legend_labels, legend_colors)):
    yy = 6.5 + 13.5 * i
    mk = dict(color=col, strokeWidth=3.2 if i == 3 else (1.5 if i == 2 else 1.1))
    if i == 0:
        mk["strokeDash"] = [1.5, 1.5]
    legend_layers.append(alt.Chart(pd.DataFrame({"label": [lab]})).mark_rule(**mk).encode(
        x=alt.value(5), x2=alt.value(38), y=alt.value(yy)))
    legend_layers.append(alt.Chart(pd.DataFrame({"label": [lab]})).mark_text(
        font=FONT, fontSize=12, color="#000000", align="left", baseline="middle").encode(
        x=alt.value(44), y=alt.value(yy), text="label:N"))

inner_c = alt.layer(
    zminor, nuclei, long_lines, short_lines, c_arrows, c_heads,
    red_pts, black_pt, blue_pt, *c_text_layers, *legend_layers, letter("c", 18),
)
panel_c = alt.layer(e_layer, inner_c).resolve_scale(y="independent").properties(width=WC, height=HC)

chart = alt.vconcat(panel_a, panel_b, panel_c, spacing=37, bounds="flush").properties(
    padding=0, background="white"
).configure_view(stroke=FRAME, strokeWidth=1.3)

chart.save("out.html", embed_options={"renderer": "svg", "actions": False})
